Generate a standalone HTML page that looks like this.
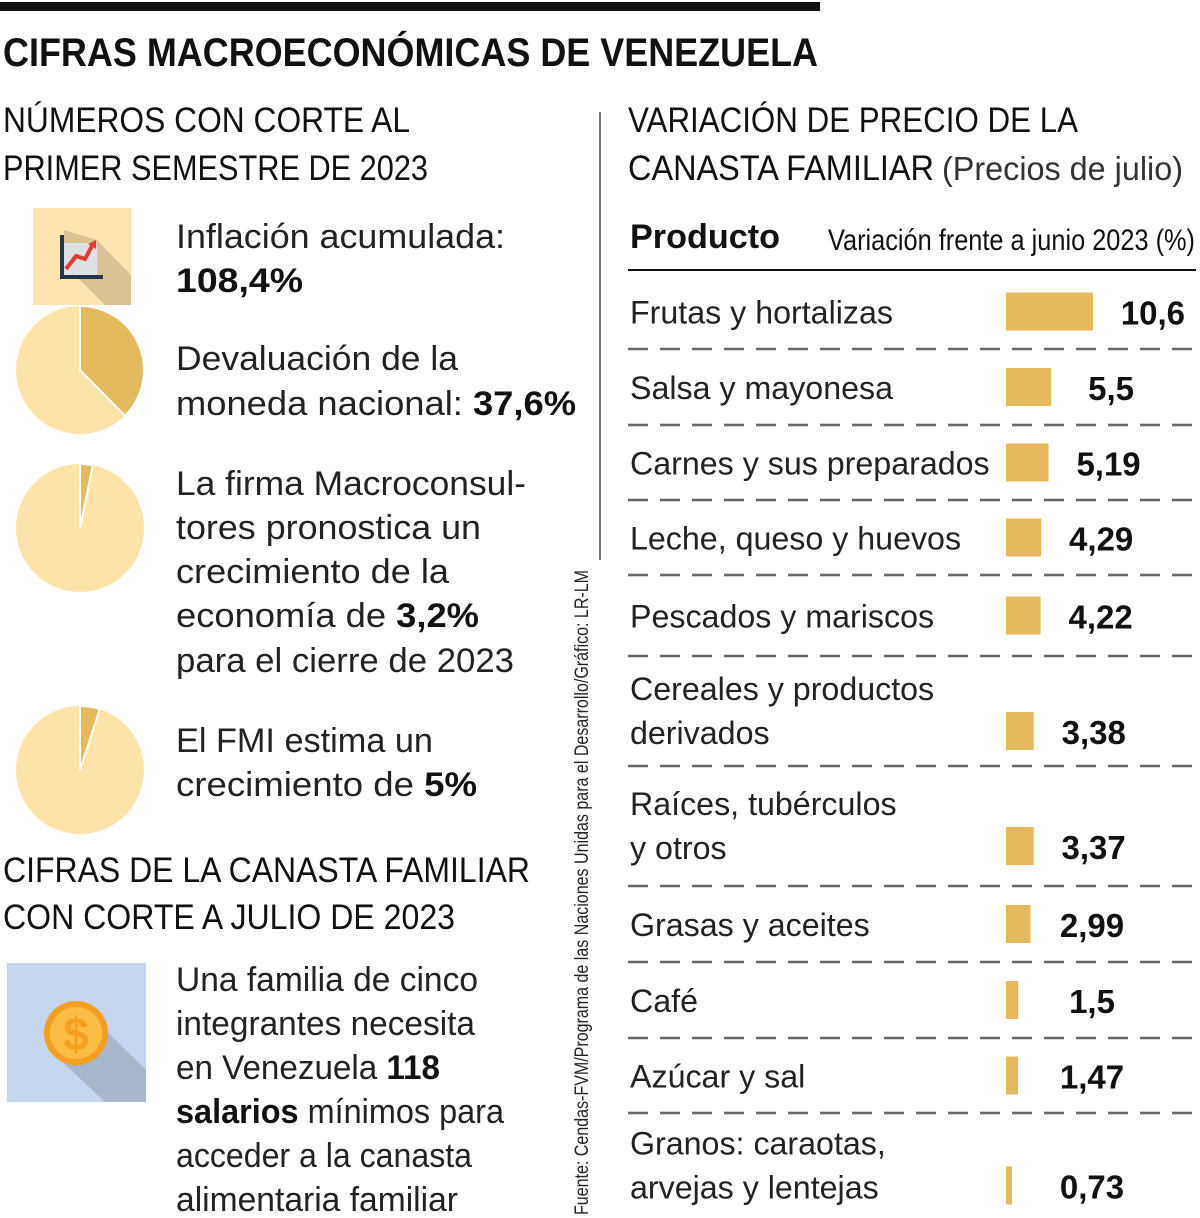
<!DOCTYPE html>
<html><head><meta charset="utf-8"><style>
html,body{margin:0;padding:0;background:#fff;}
svg{display:block;font-family:"Liberation Sans",sans-serif;}
</style></head><body>
<svg id="root" width="1200" height="1218" viewBox="0 0 1200 1218" xmlns="http://www.w3.org/2000/svg">
<rect x="0" y="2" width="820" height="9" fill="#111"/>
<text x="3" y="66" font-size="40" font-weight="bold" fill="#111" textLength="815" lengthAdjust="spacingAndGlyphs">CIFRAS MACROECONÓMICAS DE VENEZUELA</text>
<text x="3" y="132" font-size="35" fill="#111" textLength="407" lengthAdjust="spacingAndGlyphs">NÚMEROS CON CORTE AL</text>
<text x="3" y="180" font-size="35" fill="#111" textLength="425" lengthAdjust="spacingAndGlyphs">PRIMER SEMESTRE DE 2023</text>
<text x="628" y="132" font-size="35" fill="#111" textLength="450" lengthAdjust="spacingAndGlyphs">VARIACIÓN DE PRECIO DE LA</text>
<text x="628" y="180" font-size="35" fill="#111" textLength="306" lengthAdjust="spacingAndGlyphs">CANASTA FAMILIAR</text>
<text x="942" y="180" font-size="33" fill="#333" textLength="241" lengthAdjust="spacingAndGlyphs">(Precios de julio)</text>
<line x1="600" y1="112" x2="600" y2="560" stroke="#777" stroke-width="2"/>

<g>
<rect x="33" y="208" width="98" height="97" fill="#fde5b0"/>
<polygon points="64,230 97,240 131,275 131,305 105,305 64,264" fill="#d9c393"/>
<rect x="62" y="243" width="35" height="33" fill="#dde1e6"/>
<rect x="60" y="235" width="4" height="44" fill="#243447"/>
<rect x="60" y="275" width="43" height="4" fill="#243447"/>
<polyline points="66,269 76,256 85,259 93,244" fill="none" stroke="#e53935" stroke-width="4"/>
<polygon points="88,244 96,240 96,249" fill="#e53935"/>
</g>
<text x="176" y="248" font-size="34" fill="#222" textLength="329" lengthAdjust="spacingAndGlyphs">Inflación acumulada:</text>
<text x="176" y="292" font-size="34" font-weight="bold" fill="#111" textLength="127" lengthAdjust="spacingAndGlyphs">108,4%</text>

<g id="pies"></g>
<text x="176" y="370" font-size="34" fill="#222" textLength="282" lengthAdjust="spacingAndGlyphs">Devaluación de la</text>
<text x="176" y="415" font-size="34" fill="#222" textLength="400" lengthAdjust="spacingAndGlyphs">moneda nacional: <tspan font-weight="bold" fill="#111">37,6%</tspan></text>
<text x="176" y="495" font-size="34" fill="#222" textLength="350" lengthAdjust="spacingAndGlyphs">La firma Macroconsul-</text>
<text x="176" y="539" font-size="34" fill="#222" textLength="305" lengthAdjust="spacingAndGlyphs">tores pronostica un</text>
<text x="176" y="583" font-size="34" fill="#222" textLength="273" lengthAdjust="spacingAndGlyphs">crecimiento de la</text>
<text x="176" y="627" font-size="34" fill="#222" textLength="303" lengthAdjust="spacingAndGlyphs">economía de <tspan font-weight="bold" fill="#111">3,2%</tspan></text>
<text x="176" y="672" font-size="34" fill="#222" textLength="338" lengthAdjust="spacingAndGlyphs">para el cierre de 2023</text>
<text x="176" y="752" font-size="34" fill="#222" textLength="257" lengthAdjust="spacingAndGlyphs">El FMI estima un</text>
<text x="176" y="796" font-size="34" fill="#222" textLength="301" lengthAdjust="spacingAndGlyphs">crecimiento de <tspan font-weight="bold" fill="#111">5%</tspan></text>

<text x="3" y="882" font-size="35" fill="#111" textLength="527" lengthAdjust="spacingAndGlyphs">CIFRAS DE LA CANASTA FAMILIAR</text>
<text x="3" y="929" font-size="35" fill="#111" textLength="452" lengthAdjust="spacingAndGlyphs">CON CORTE A JULIO DE 2023</text>

<g>
<rect x="7" y="963" width="139" height="139" fill="#c5d5ee"/>
<polygon points="95,1020 146,1070 146,1102 105,1102 55,1055" fill="#a9b7cb"/>
<circle cx="76" cy="1033" r="32" fill="#f59f1e"/>
<circle cx="76" cy="1033" r="26" fill="#fbbd45"/>
<text x="76" y="1050" font-size="46" font-weight="bold" fill="#f59f1e" text-anchor="middle">$</text>
</g>
<text x="176" y="991" font-size="34" fill="#222" textLength="302" lengthAdjust="spacingAndGlyphs">Una familia de cinco</text>
<text x="176" y="1035" font-size="34" fill="#222" textLength="299" lengthAdjust="spacingAndGlyphs">integrantes necesita</text>
<text x="176" y="1079" font-size="34" fill="#222" textLength="264" lengthAdjust="spacingAndGlyphs">en Venezuela <tspan font-weight="bold" fill="#111">118</tspan></text>
<text x="176" y="1123" font-size="34" fill="#222" textLength="328" lengthAdjust="spacingAndGlyphs"><tspan font-weight="bold" fill="#111">salarios</tspan> mínimos para</text>
<text x="176" y="1167" font-size="34" fill="#222" textLength="296" lengthAdjust="spacingAndGlyphs">acceder a la canasta</text>
<text x="176" y="1211" font-size="34" fill="#222" textLength="282" lengthAdjust="spacingAndGlyphs">alimentaria familiar</text>

<text transform="translate(588,1215) rotate(-90)" font-size="19" fill="#222" textLength="645" lengthAdjust="spacingAndGlyphs">Fuente: Cendas-FVM/Programa de las Naciones Unidas para el Desarrollo/Gráfico: LR-LM</text>

<text x="630" y="248" font-size="34" font-weight="bold" fill="#111" textLength="150" lengthAdjust="spacingAndGlyphs">Producto</text>
<text x="828" y="250" font-size="30" fill="#111" textLength="367" lengthAdjust="spacingAndGlyphs">Variación frente a junio 2023 (%)</text>
<line x1="628" y1="270" x2="1196" y2="270" stroke="#111" stroke-width="2"/>
<g id="rows"></g>
</svg>
<script>
// chart data
const categories = [["Frutas y hortalizas"],["Salsa y mayonesa"],["Carnes y sus preparados"],["Leche, queso y huevos"],["Pescados y mariscos"],["Cereales y productos","derivados"],["Raíces, tubérculos","y otros"],["Grasas y aceites"],["Café"],["Azúcar y sal"],["Granos: caraotas,","arvejas y lentejas"]];
const values = [10.6,5.5,5.19,4.29,4.22,3.38,3.37,2.99,1.5,1.47,0.73];
const valueLabels = ["10,6","5,5","5,19","4,29","4,22","3,38","3,37","2,99","1,5","1,47","0,73"];
const pieValues = [37.6,3.2,5];

const NS="http://www.w3.org/2000/svg";
function mk(tag,attrs,parent){const e=document.createElementNS(NS,tag);for(const k in attrs)e.setAttribute(k,attrs[k]);parent.appendChild(e);return e;}

const pieCenters=[370,528,770];
const pg=document.getElementById('pies');
pieValues.forEach((v,i)=>{
  const cx=80,cy=pieCenters[i],r=64;
  const c=mk('circle',{cx:cx,cy:cy,r:r,fill:'#fde3a7'},pg);
  
  
  const a=v/100*2*Math.PI;
  const x=cx+r*Math.sin(a),y=cy-r*Math.cos(a);
  const p=mk('path',{d:`M${cx},${cy} L${cx},${cy-r} A${r},${r} 0 ${v>50?1:0} 1 ${x},${y} Z`,fill:'#e5b95e',stroke:'#fff','stroke-width':2},pg);
  
  
});

const rowTops=[274,349,425,500,575,656,766,886,962,1038,1113];
const rowBottoms=[349,425,500,575,656,766,886,962,1038,1113,1218];
const x0=1006, scale=8.2;
function xs(v){return x0+v*scale;}
const rg=document.getElementById('rows');
categories.forEach((lines,i)=>{
  const top=rowTops[i],bot=rowBottoms[i];
  const mid=(top+bot)/2;
  const g=mk('g',{},rg);
  
  
  const n=lines.length;
  lines.forEach((t,j)=>{
    const by = n===1 ? mid+12 : mid-11+j*44;
    const tx=mk('text',{x:630,y:by,'font-size':32.2,fill:'#222'},g);
    tx.textContent=t;
    
    
  });
  const barMid = n===1 ? mid : mid+20;
  const bar=mk('rect',{x:x0,y:barMid-19,width:Math.max(2,xs(values[i])-x0),height:38,fill:'#e6b95f'},g);
  
  
  const lx=Math.max(xs(values[i])+60,1092);
  const vt=mk('text',{x:lx,y:barMid+13,'font-size':33,'font-weight':'bold',fill:'#111','text-anchor':'middle'},g);
  vt.textContent=valueLabels[i];
  
  
  if(i<categories.length-1){
    const dl=mk('line',{x1:628,y1:bot,x2:1196,y2:bot,stroke:'#666','stroke-width':2.5,'stroke-dasharray':'20 12'},g);
    
    
  }
});
</script>
</body></html>
